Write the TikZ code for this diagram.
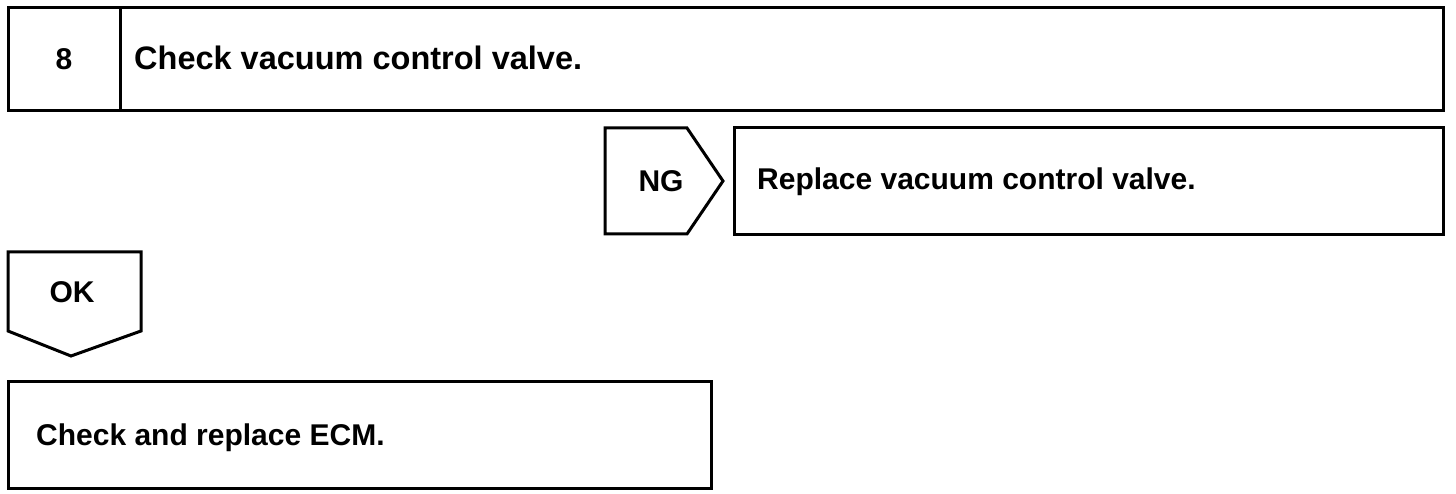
\documentclass[tikz,border=0pt]{standalone}
\usepackage{fontspec}
\setmainfont{Liberation Sans}
\begin{document}
\begin{tikzpicture}[x=1pt,y=-1pt,
  boxline/.style={draw=black,line width=3pt,line join=miter},
  lbl/.style={font=\fontsize{30}{36}\selectfont\bfseries,inner sep=0pt},
  biglbl/.style={font=\fontsize{32.5}{38}\selectfont\bfseries,inner sep=0pt}]
\useasboundingbox[fill=white] (0,0) rectangle (1456,494);
% top box
\draw[boxline] (8,8) rectangle (1443,111);
\draw[boxline] (120,8) -- (120,111);
\node[lbl,anchor=base] (n8) at (64,70) {8};
\node[biglbl,anchor=base west] (t8) at (134,70) {Check vacuum control valve.};
% NG pentagon
\draw[boxline] (605,128) -- (687,128) -- (723,181) -- (687,234) -- (605,234) -- cycle;
\node[lbl,anchor=base] (ng) at (661,192) {NG};
\draw[boxline] (734,128) rectangle (1443,235);
\node[lbl,anchor=base west] (rep) at (757,190) {Replace vacuum control valve.};
% OK shape
\draw[boxline] (8,252) -- (141,252) -- (141,331) -- (71,356) -- (8,331) -- cycle;
\node[lbl,anchor=base] (ok) at (72,302) {OK};
% ECM box
\draw[boxline] (8,381) rectangle (711,488);
\node[lbl,anchor=base west] (ecm) at (36,445) {Check and replace ECM.};
\end{tikzpicture}
\end{document}
